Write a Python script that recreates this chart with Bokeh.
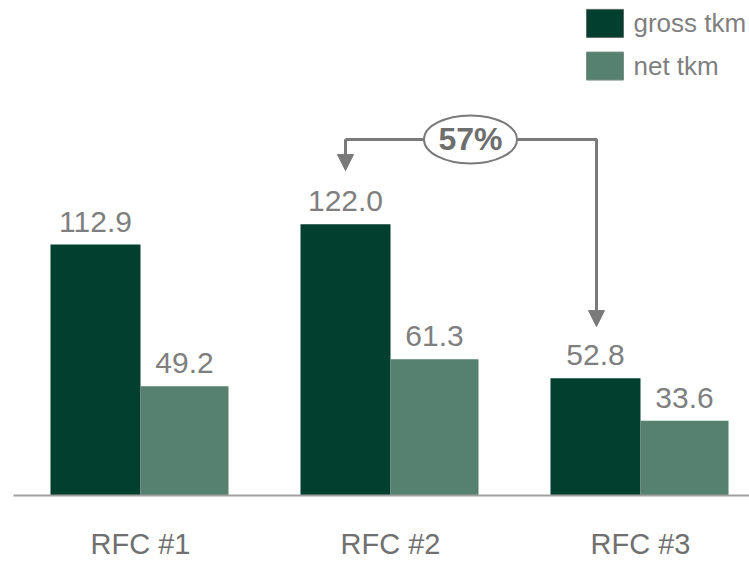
from bokeh.plotting import figure
from bokeh.models import Range1d, Arrow, NormalHead
from bokeh.core.properties import value
from bokeh.embed import file_html
from bokeh.resources import INLINE

categories = ["RFC #1", "RFC #2", "RFC #3"]
gross_tkm = [112.9, 122.0, 52.8]
net_tkm = [49.2, 61.3, 33.6]
series_names = ["gross tkm", "net tkm"]
change_label = "57%"

GROSS = "#023F2E"
NET = "#568070"
GRAY = "#7F7F7F"
FONT = "Liberation Sans"

p = figure(width=749, height=561, output_backend="svg", toolbar_location=None,
           x_range=Range1d(-0.56, 2.436), y_range=Range1d(-29.7, 222.7),
           min_border=0, min_border_left=0, min_border_right=0,
           min_border_top=0, min_border_bottom=0)
p.axis.visible = False
p.grid.visible = False
p.outline_line_color = None
p.background_fill_color = "white"

xs = list(range(len(categories)))
xg = [x - 0.18 for x in xs]
xn = [x + 0.176 for x in xs]

p.vbar(x=xg, top=gross_tkm, bottom=0, width=0.36, fill_color=GROSS, line_color=None)
p.vbar(x=xn, top=net_tkm, bottom=0, width=0.352, fill_color=NET, line_color=None)

# baseline
p.segment(x0=[-0.508], y0=[0], x1=[2.44], y1=[0], line_color="#A0A0A0", line_width=2)

# value labels
p.text(x=xg, y=gross_tkm, text=[f"{v:.1f}" for v in gross_tkm], y_offset=-23,
       text_align="center", text_baseline="middle", text_color=GRAY,
       text_font=value(FONT), text_font_size="30px")
p.text(x=xn, y=net_tkm, text=[f"{v:.1f}" for v in net_tkm], y_offset=-23,
       text_align="center", text_baseline="middle", text_color=GRAY,
       text_font=value(FONT), text_font_size="30px")

# category labels
p.text(x=xs, y=[0] * 3, text=categories, y_offset=49,
       text_align="center", text_baseline="middle", text_color="#707070",
       text_font=value(FONT), text_font_size="29px")

# legend
lx = 1.858
ly = [212.4, 193.2]
p.rect(x=[lx, lx], y=ly, width=37, height=28, width_units="screen", height_units="screen",
       fill_color=[GROSS, NET], line_color=["#5a6a64", "#7a8f87"], line_width=1)
p.text(x=[1.972, 1.972], y=ly, text=series_names, text_align="left", text_baseline="middle",
       text_color=GRAY, text_font=value(FONT), text_font_size="26px")

# change arrow
hy = 160.2
lxa, rxa = 0.82, 1.824
ACOL = "#7A7A7A"
p.line(x=[lxa, rxa, rxa], y=[hy, hy, 84.0], line_color=ACOL, line_width=3)
p.line(x=[lxa, lxa], y=[hy, 152.0], line_color=ACOL, line_width=3)
p.add_layout(Arrow(end=NormalHead(size=16, fill_color=ACOL, line_color=ACOL),
                   x_start=lxa, y_start=hy, x_end=lxa, y_end=146.2,
                   line_color=ACOL, line_width=3))
p.add_layout(Arrow(end=NormalHead(size=16, fill_color=ACOL, line_color=ACOL),
                   x_start=rxa, y_start=hy, x_end=rxa, y_end=76.0,
                   line_color=ACOL, line_width=3))
p.ellipse(x=[1.32], y=[hy], width=93, height=48, width_units="screen", height_units="screen",
          fill_color="white", line_color=ACOL, line_width=2)
p.text(x=[1.32], y=[hy], text=[change_label], text_align="center", text_baseline="middle",
       text_color="#6E6E6E", text_font=value(FONT), text_font_size="32px",
       text_font_style="bold")

open("out.html", "w").write(file_html(p, INLINE))
